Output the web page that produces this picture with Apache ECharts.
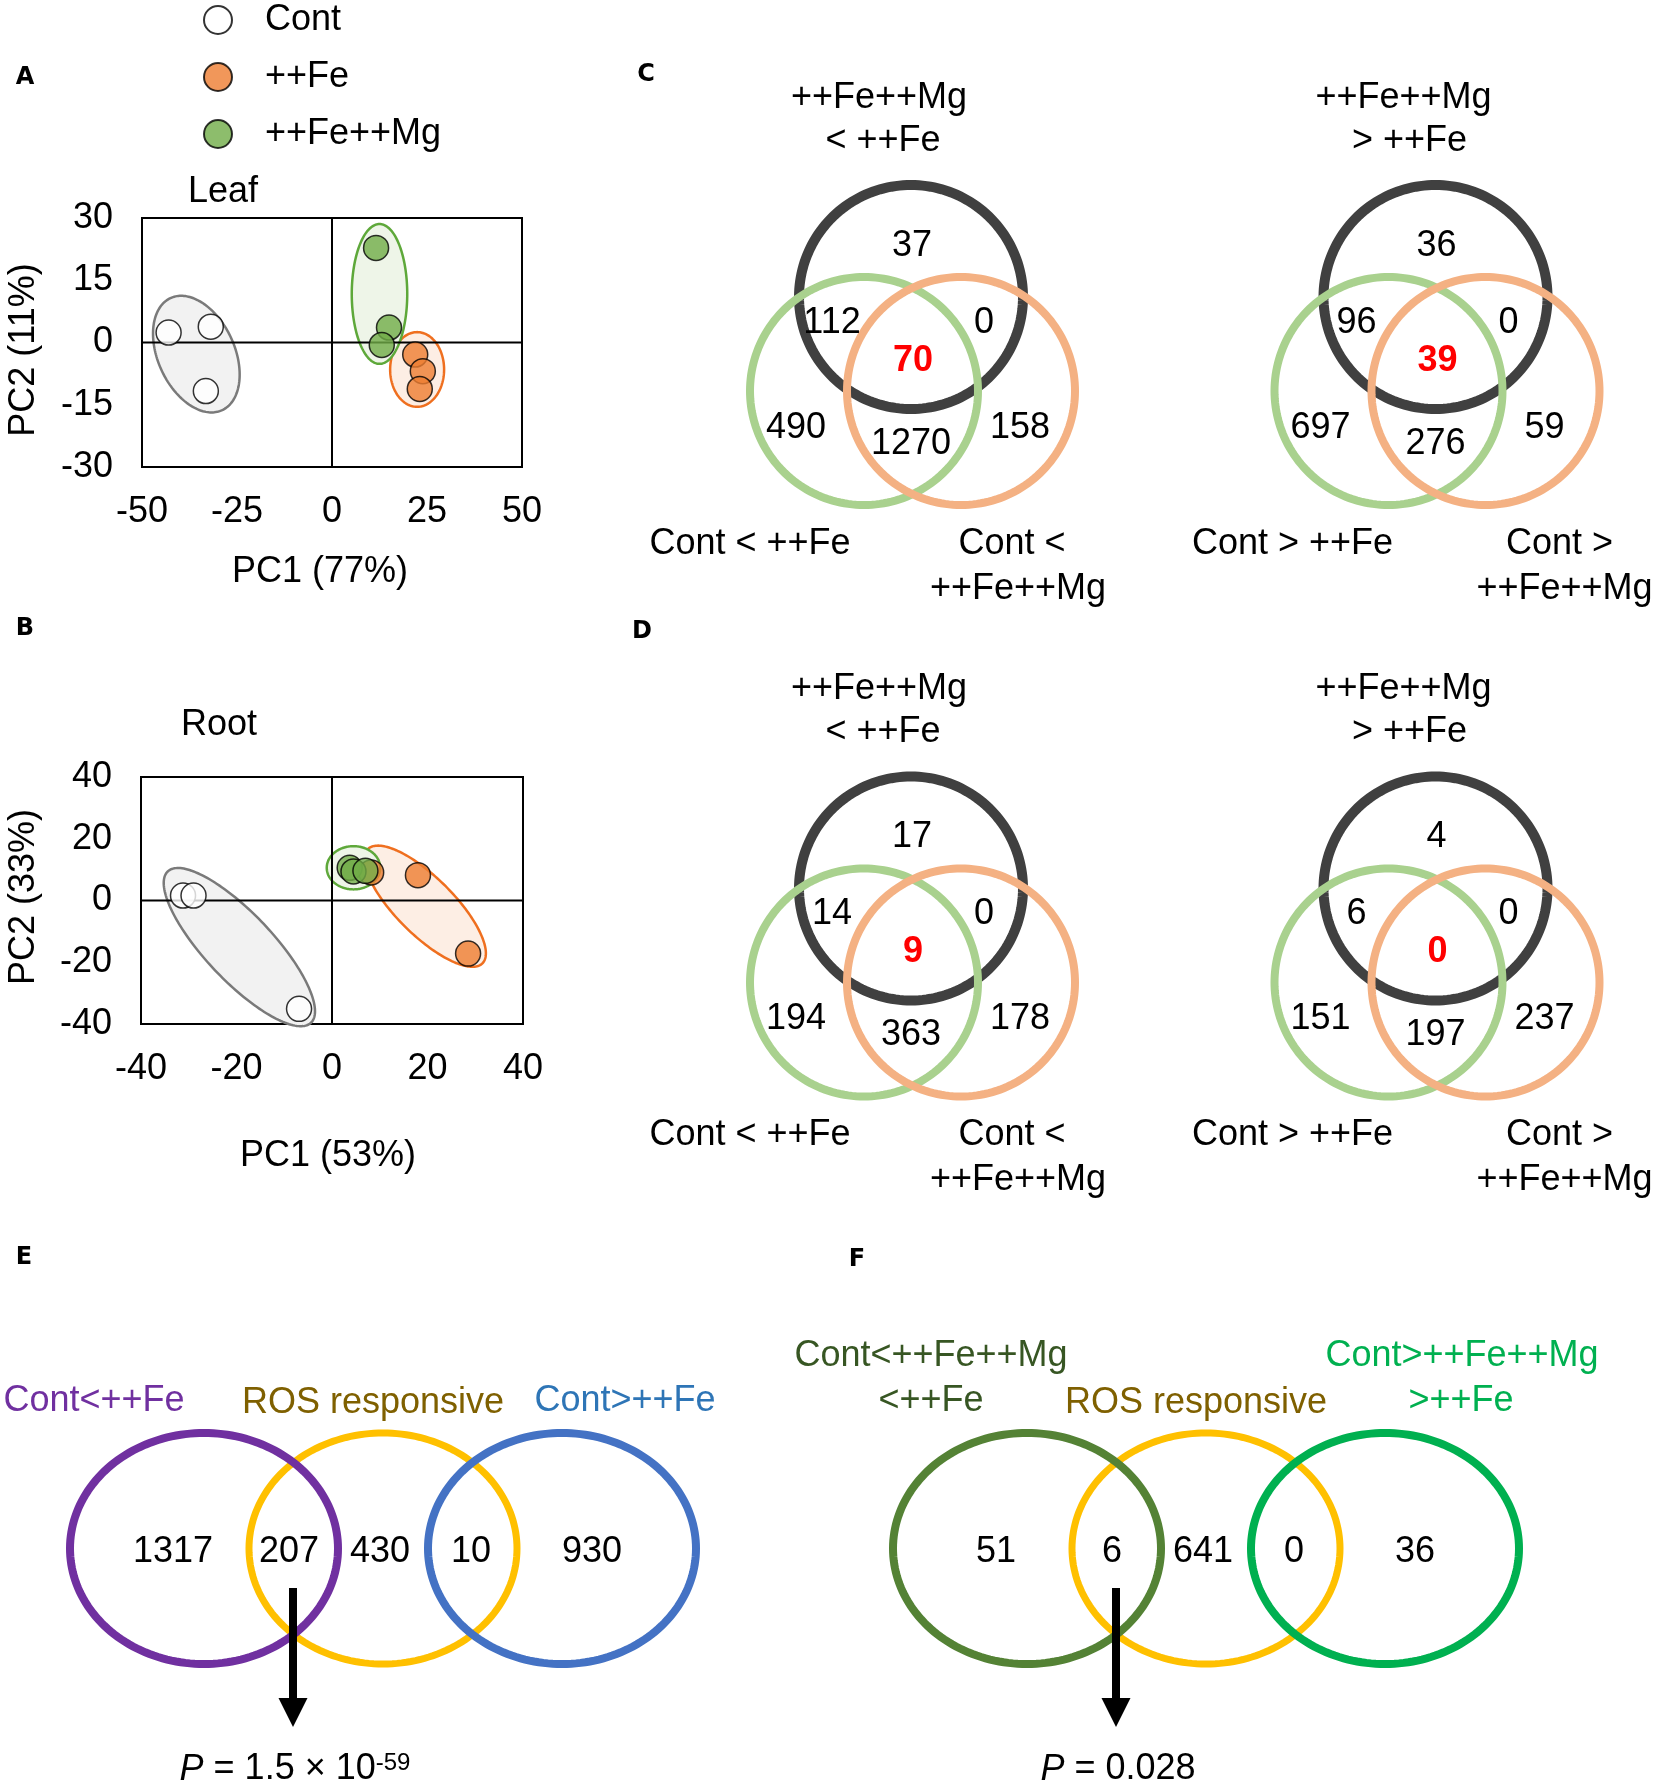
<!DOCTYPE html>
<html>
<head>
<meta charset="utf-8">
<script src="https://cdn.jsdelivr.net/npm/echarts@6/dist/echarts.min.js"></script>
<style>
html,body{margin:0;padding:0;background:#fff;}
#chart{width:1654px;height:1785px;}
</style>
</head>
<body>
<div id="chart"></div>
<script>
// ---------------- DATA ----------------
const groupNames = ['Cont', '++Fe', '++Fe++Mg'];
// PCA scores (PC1, PC2)
const leafCont = [[-43.0, 2.4], [-31.9, 3.8], [-33.2, -11.7]];
const leafFe = [[21.9, -2.9], [23.9, -6.9], [23.1, -11.2]];
const leafFeMg = [[11.6, 22.8], [15.0, 3.6], [13.1, -0.6]];
const rootCont = [[-31.2, 1.6], [-29.0, 1.6], [-6.9, -35.1]];
const rootFe = [[8.2, 9.1], [18.0, 8.2], [28.5, -17.2]];
const rootFeMg = [[3.7, 10.6], [4.5, 9.4], [7.0, 9.6]];
// group ellipses: centre (PC1, PC2) + two conjugate semi-axis vectors, in data units
const leafEllCont = [-35.7, -2.8, 6.8, -13.5, 9.15, 3.9];
const leafEllFeMg = [12.5, 11.7, 0, 16.85, 7.3, 0];
const leafEllFe = [22.4, -6.5, 7.1, 0, 0, 9.0];
const rootEllCont = [-19.4, -15.1, 15.0, -24.5, 5.1, 7.5];
const rootEllFe = [19.5, -1.85, 12.0, -18.5, 4.25, 6.55];
const rootEllFeMg = [4.5, 10.6, 5.6, 0, 0, 7.0];
// axis ticks [min, max, interval]
const leafXTicks = [-50, 50, 25];
const leafYTicks = [-30, 30, 15];
const rootXTicks = [-40, 40, 20];
const rootYTicks = [-40, 40, 20];
// Venn counts: [top only, top&left, top&right, all three, left only, left&right, right only]
const vennCDown = [37, 112, 0, 70, 490, 1270, 158];
const vennCUp = [36, 96, 0, 39, 697, 276, 59];
const vennDDown = [17, 14, 0, 9, 194, 363, 178];
const vennDUp = [4, 6, 0, 0, 151, 197, 237];
// Venn E / F counts: [left only, left&ROS, ROS only, ROS&right, right only]
const vennE = [1317, 207, 430, 10, 930];
const vennF = [51, 6, 641, 0, 36];
const pValueE = ['1.5 × 10', '-59'];
const pValueF = ['0.028', ''];

// ---------------- LAYOUT ----------------
const FONT = "'Liberation Sans', Arial, sans-serif";
const DY = 3; // text baseline correction
const chart = echarts.init(document.getElementById('chart'), null, {renderer: 'canvas'});

function ellPts(api, e) {
  const pts = [];
  for (let i = 0; i < 180; i++) {
    const t = i / 180 * Math.PI * 2, c = Math.cos(t), s = Math.sin(t);
    pts.push(api.coord([e[0] + e[2] * c + e[4] * s, e[1] + e[3] * c + e[5] * s]));
  }
  return pts;
}
function ellSeries(gi, e, fill, stroke, lw, z) {
  return {type: 'custom', xAxisIndex: gi, yAxisIndex: gi, silent: true, z: z, clip: false,
    data: [[e[0], e[1]]],
    renderItem: (p, api) => ({type: 'polygon', shape: {points: ellPts(api, e)},
      style: {fill: fill, stroke: stroke, lineWidth: lw}})};
}
function textSeries(gi, items, z) {
  return {type: 'custom', xAxisIndex: gi, yAxisIndex: gi, silent: true, z: z, clip: false,
    data: items.map(d => [d[0], d[1]]),
    renderItem: (p, api) => {
      const d = items[p.dataIndex];
      const c = api.coord([d[0], d[1]]);
      return {type: 'text', x: c[0], y: c[1] + DY, style: {text: String(d[2]), fontSize: 36, fontFamily: FONT,
        fontWeight: d[3] ? 'bold' : 'normal', fill: d[3] ? '#ff0000' : '#000',
        align: 'center', verticalAlign: 'middle', textAlign: 'center', textVerticalAlign: 'middle'}};
    }};
}
function zeroLine(gi, pts) {
  return {type: 'line', xAxisIndex: gi, yAxisIndex: gi, data: pts, symbol: 'none', silent: true, z: 2,
    lineStyle: {color: '#000', width: 2}, animation: false};
}
const grids = [], xAxes = [], yAxes = [], series = [], graphics = [];

function scatterGrid(box, xt, yt) {
  const gi = grids.length;
  grids.push({left: box[0], top: box[1], width: box[2], height: box[3], show: true, borderColor: '#000', borderWidth: 2});
  const lab = {fontSize: 36, color: '#000', fontFamily: FONT};
  xAxes.push({gridIndex: gi, type: 'value', min: xt[0], max: xt[1], interval: xt[2],
    axisLine: {show: false}, axisTick: {show: false}, splitLine: {show: false},
    axisLabel: Object.assign({margin: 27}, lab)});
  yAxes.push({gridIndex: gi, type: 'value', min: yt[0], max: yt[1], interval: yt[2],
    axisLine: {show: false}, axisTick: {show: false}, splitLine: {show: false},
    axisLabel: Object.assign({margin: 29, padding: [2 * DY, 0, 0, 0]}, lab)});
  series.push(zeroLine(gi, [[xt[0], 0], [xt[1], 0]]));
  series.push(zeroLine(gi, [[0, yt[0]], [0, yt[1]]]));
  return gi;
}
function hiddenGrid(cx, cy, x0, x1, y0, y1) {
  const gi = grids.length;
  grids.push({left: cx + x0, top: cy + y0, width: x1 - x0, height: y1 - y0, show: false});
  xAxes.push({gridIndex: gi, type: 'value', min: x0, max: x1, show: false});
  yAxes.push({gridIndex: gi, type: 'value', min: y0, max: y1, inverse: true, show: false});
  return gi;
}
const groupStyles = [
  {color: '#ffffff', borderColor: '#000', borderWidth: 1.5},
  {color: '#ed7d31', borderColor: '#000', borderWidth: 1.5},
  {color: '#70ad47', borderColor: '#000', borderWidth: 1.5}
];
function pcaPanel(gi, sets, ells) {
  const ellStyle = [['#f2f2f2', '#7a7a7a'], ['#fdeee4', '#ef6f1f'], ['#eef5e8', '#5ea83a']];
  ells.forEach((e, i) => series.push(ellSeries(gi, e, ellStyle[i][0], ellStyle[i][1], 2.5, 1)));
  sets.forEach((d, i) => series.push({type: 'scatter', name: groupNames[i], xAxisIndex: gi, yAxisIndex: gi,
    data: d, symbolSize: 25, itemStyle: groupStyles[i], z: 3, silent: true}));
}

// A: Leaf
const gA = scatterGrid([142, 218, 380, 249], leafXTicks, leafYTicks);
pcaPanel(gA, [leafCont, leafFe, leafFeMg], [leafEllCont, leafEllFe, leafEllFeMg]);
// B: Root
const gB = scatterGrid([141, 777, 382, 247], rootXTicks, rootYTicks);
pcaPanel(gB, [rootCont, rootFe, rootFeMg], [rootEllCont, rootEllFe, rootEllFeMg]);

function txt(s, x, y, opts, extra) {
  graphics.push(Object.assign({type: 'text', x: x, y: y + DY,
    style: Object.assign({text: s, fontSize: 36, fontFamily: FONT, fill: '#000', align: 'center', verticalAlign: 'middle', textAlign: 'center', textVerticalAlign: 'middle'}, opts || {})}, extra || {}));
}

// C / D three-set Venns
const venn3Circles = [[0, 0, 112, '#404040', 10], [-47, 94, 114, '#a9d18e', 8], [50, 94, 114, '#f4b183', 8]];
const venn3Regions = [[1, -54], [-79, 23], [73, 23], [2, 61], [-115, 128], [0, 144], [109, 128]];
function venn3(cx, cy, counts, sign, isRight) {
  const gi = hiddenGrid(cx, cy, -200, 200, -150, 250);
  venn3Circles.forEach(c => series.push(ellSeries(gi, [c[0], c[1], c[2], 0, 0, c[2]], 'none', c[3], c[4], 2)));
  series.push(textSeries(gi, counts.map((v, i) => [venn3Regions[i][0], venn3Regions[i][1], v, i === 3]), 3));
  const t = (s, dx, dy) => txt(s, cx + dx, cy + dy);
  t('++Fe++Mg', -32, -202);
  t(sign + ' ++Fe', isRight ? -26 : -28, -159);
  if (!isRight) {
    t('Cont ' + sign + ' ++Fe', -161, 244);
    t('Cont ' + sign, 101, 244);
    t('++Fe++Mg', 107, 289);
  } else {
    t('Cont ' + sign + ' ++Fe', -143, 244);
    t('Cont ' + sign, 124, 244);
    t('++Fe++Mg', 129, 289);
  }
}
venn3(911, 297, vennCDown, '<', false);
venn3(1435.5, 297, vennCUp, '>', true);
venn3(911, 888.5, vennDDown, '<', false);
venn3(1435.5, 888.5, vennDUp, '>', true);

// E / F ROS Venns
const rosX = [-210, -94, -3, 88, 209];
function vennRos(cx, cy, counts, colL, colR, pv) {
  const gi = hiddenGrid(cx, cy, -340, 340, -150, 230);
  const shapes = [[0, '#ffc000', 7], [-179, colL, 8], [179, colR, 8]];
  shapes.forEach(s => series.push(ellSeries(gi, [s[0], 0, 134, 0, 0, 115.5], 'none', s[1], s[2], 2)));
  series.push(textSeries(gi, counts.map((v, i) => [rosX[i], 1, v, false]), 3));
  series.push({type: 'custom', xAxisIndex: gi, yAxisIndex: gi, silent: true, z: 4, clip: false,
    data: [[-90, 39.5]],
    renderItem: (p, api) => {
      const a = api.coord([-90, 39.5]), b = api.coord([-90, 152]);
      const l = api.coord([-104.5, 149.5]), r = api.coord([-75.5, 149.5]), tip = api.coord([-90, 178.5]);
      return {type: 'group', children: [
        {type: 'line', shape: {x1: a[0], y1: a[1], x2: b[0], y2: b[1]}, style: {stroke: '#000', lineWidth: 8}},
        {type: 'polygon', shape: {points: [l, r, tip]}, style: {fill: '#000'}}
      ]};
    }});
  txt('{i|P} = ' + pv[0] + (pv[1] ? '{s|' + pv[1] + '}' : ''), cx - 88, cy + 218,
    {rich: {i: {fontStyle: 'italic', fontSize: 36, fontFamily: FONT}, s: {fontSize: 24, fontFamily: FONT, verticalAlign: 'top', padding: [0, 0, 12, 0]}}});
}
vennRos(383, 1548.5, vennE, '#7030a0', '#4472c4', pValueE);
vennRos(1206, 1548.5, vennF, '#548235', '#00b050', pValueF);

// static texts
const bold = {fontSize: 24, fontWeight: 'bold', fontFamily: "'DejaVu Sans', sans-serif"};
txt('A', 25, 75, bold); txt('B', 25, 626, bold); txt('C', 646, 72, bold);
txt('D', 642, 629, bold); txt('E', 24, 1255, bold); txt('F', 857, 1257, bold);
txt('Leaf', 223, 189); txt('Root', 219, 722);
txt('PC1 (77%)', 320, 569); txt('PC1 (53%)', 328, 1153);
txt('PC2 (11%)', 21 + DY, 350 - DY, null, {rotation: Math.PI / 2});
txt('PC2 (33%)', 21 + DY, 897 - DY, null, {rotation: Math.PI / 2});
txt('Cont<++Fe', 94, 1398, {fill: '#7030a0'});
txt('ROS responsive', 373, 1400, {fill: '#7f6000'});
txt('Cont>++Fe', 625, 1398, {fill: '#2e75b6'});
txt('Cont<++Fe++Mg', 931, 1353, {fill: '#375623'});
txt('<++Fe', 931, 1398, {fill: '#375623'});
txt('ROS responsive', 1196, 1400, {fill: '#7f6000'});
txt('Cont>++Fe++Mg', 1462, 1353, {fill: '#00b050'});
txt('>++Fe', 1461, 1398, {fill: '#00b050'});

chart.setOption({
  backgroundColor: '#fff',
  animation: false,
  textStyle: {fontFamily: FONT},
  legend: {data: groupNames, orient: 'vertical', left: 198, top: -3, itemWidth: 28, itemHeight: 28, itemGap: 21,
    selectedMode: false, icon: 'circle',
    textStyle: {fontSize: 36, fontFamily: FONT, color: '#000', padding: [0, 0, 0, 28], lineHeight: 36}},
  grid: grids, xAxis: xAxes, yAxis: yAxes, series: series, graphic: graphics
});
</script>
</body>
</html>
